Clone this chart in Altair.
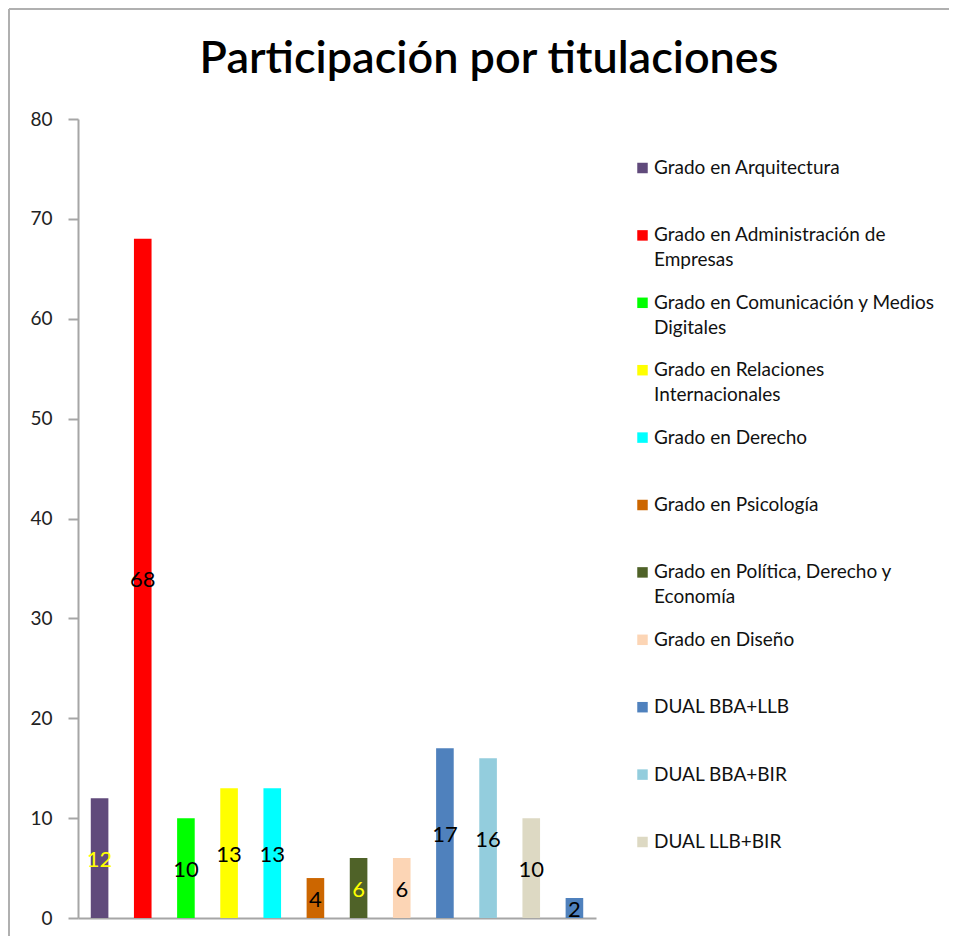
import altair as alt
import pandas as pd

TITLE = "Participación por titulaciones"

# bar values (left to right)
values = [12, 68, 10, 13, 13, 4, 6, 6, 17, 16, 10, 2]
bar_colors = ["#604a7b", "#ff0000", "#00ff00", "#ffff00", "#00ffff", "#cc6600",
              "#4f6228", "#fcd5b5", "#4f81bd", "#93cddd", "#ddd9c3", "#4f81bd"]
label_colors = ["#ffff00", "#000000", "#000000", "#000000", "#000000", "#000000",
                "#ffff00", "#000000", "#000000", "#000000", "#000000", "#000000"]

# legend entries (as shown in the picture)
legend_names = [
    "Grado en Arquitectura",
    "Grado en Administración de\nEmpresas",
    "Grado en Comunicación y Medios\nDigitales",
    "Grado en Relaciones\nInternacionales",
    "Grado en Derecho",
    "Grado en Psicología",
    "Grado en Política, Derecho y\nEconomía",
    "Grado en Diseño",
    "DUAL BBA+LLB",
    "DUAL BBA+BIR",
    "DUAL LLB+BIR",
]
legend_colors = bar_colors[:11]

y_ticks = [0, 10, 20, 30, 40, 50, 60, 70, 80]

AXIS_GRAY = "#a6a6a6"
FONT = "Lato"

bars_df = pd.DataFrame({
    "idx": list(range(len(values))),
    "value": values,
    "color": bar_colors,
    "lcolor": label_colors,
})
legend_df = pd.DataFrame({
    "li": list(range(len(legend_names))),
    "name": legend_names,
    "color": legend_colors,
})

y_axis = alt.Axis(values=y_ticks, title=None, grid=False, tickSize=10, labelPadding=16,
                  domainColor=AXIS_GRAY, domainWidth=2, tickColor=AXIS_GRAY, tickWidth=2,
                  labelFont=FONT, labelFontSize=19, labelColor="#222222")
y_scale = alt.Scale(domain=[0, 80], nice=False)
x_enc = alt.X("idx:O", scale=alt.Scale(paddingInner=0.592, paddingOuter=0.296),
              axis=alt.Axis(labels=False, ticks=False, title=None,
                            domainColor=AXIS_GRAY, domainWidth=2))

bars = alt.Chart(bars_df).mark_bar().encode(
    x=x_enc,
    y=alt.Y("value:Q", scale=y_scale, axis=y_axis),
    color=alt.Color("color:N", scale=None),
)

labels = alt.Chart(bars_df).transform_calculate(
    half="datum.value / 2"
).mark_text(font=FONT, fontSize=22, baseline="middle", align="center", dy=2).encode(
    x=x_enc,
    y=alt.Y("half:Q", scale=y_scale, axis=y_axis),
    text=alt.Text("value:Q"),
    color=alt.Color("lcolor:N", scale=None),
)

leg_y = alt.Y("li:Q", scale=alt.Scale(domain=[0, 10], range=[49, 723]), axis=None)

leg_sq = alt.Chart(legend_df).mark_square(size=110, opacity=1).encode(
    x=alt.value(564.5),
    y=leg_y,
    color=alt.Color("color:N", scale=None),
)
leg_txt = alt.Chart(legend_df).mark_text(
    align="left", baseline="top", lineBreak="\n", lineHeight=25,
    font=FONT, fontSize=19, dy=-9, color="#111111"
).encode(
    x=alt.value(576),
    y=leg_y,
    text="name:N",
)

title = alt.Chart(pd.DataFrame({"t": [TITLE]})).mark_text(
    font=FONT, fontSize=45, fontWeight=600, align="center",
    baseline="alphabetic", color="#000000"
).encode(x=alt.value(411), y=alt.value(-46), text="t:N")

border_left = alt.Chart(pd.DataFrame({"a": [0]})).mark_rule(
    color="#b0b0b0", strokeWidth=2
).encode(x=alt.value(-69), y=alt.value(-110), y2=alt.value(817))
border_top = alt.Chart(pd.DataFrame({"a": [0]})).mark_rule(
    color="#b0b0b0", strokeWidth=2
).encode(x=alt.value(-69), x2=alt.value(900), y=alt.value(-110))

chart = alt.layer(
    alt.layer(bars, labels), leg_sq, leg_txt, title, border_left, border_top
).resolve_scale(y="independent").properties(
    width=518,
    height=799,
    autosize=alt.AutoSizeParams(type="none"),
    padding={"left": 70, "top": 111, "right": 353, "bottom": 18},
).configure_view(stroke=None)

chart.save("out.html", embed_options={"renderer": "svg", "actions": False})
